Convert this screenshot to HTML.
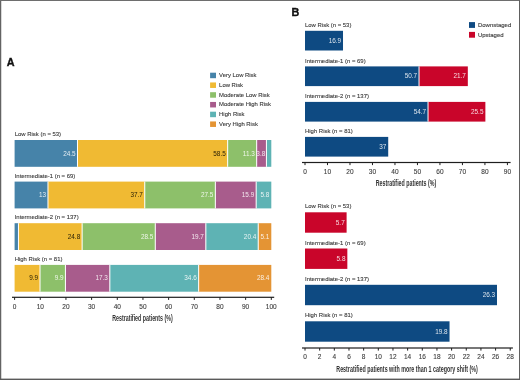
<!DOCTYPE html>
<html><head><meta charset="utf-8"><style>
html,body{margin:0;padding:0;background:#fff;}
body{width:520px;height:380px;overflow:hidden;position:relative;}
svg{position:absolute;left:0;top:0;display:block;will-change:transform;}
text{font-family:"Liberation Sans",sans-serif;}
</style></head><body>
<svg width="520" height="380" viewBox="0 0 520 380">
<rect x="0" y="0" width="520" height="380" fill="#fff"/>
<text transform="translate(14.70,136.20) scale(0.952,1)" font-size="6.25" text-anchor="start" fill="#3b3b3b" font-weight="normal" stroke="#3b3b3b" stroke-width="0.12">Low Risk (n = 53)</text>
<rect x="14.60" y="140.00" width="62.89" height="26.80" fill="#4683a9"/>
<rect x="77.49" y="140.00" width="150.17" height="26.80" fill="#f0ba33"/>
<rect x="227.66" y="140.00" width="29.01" height="26.80" fill="#8dc06a"/>
<rect x="256.67" y="140.00" width="9.75" height="26.80" fill="#a85c8c"/>
<rect x="266.42" y="140.00" width="4.88" height="26.80" fill="#5eb3b4"/>
<rect x="76.99" y="140.00" width="1.00" height="26.80" fill="#ffffff"/>
<text x="75.59" y="155.50" font-size="6.4" text-anchor="end" fill="#ffffff" font-weight="normal" fill-opacity="0.85">24.5</text>
<rect x="227.16" y="140.00" width="1.00" height="26.80" fill="#ffffff"/>
<text x="225.76" y="155.50" font-size="6.4" text-anchor="end" fill="#2b2206" font-weight="normal" >58.5</text>
<rect x="256.17" y="140.00" width="1.00" height="26.80" fill="#ffffff"/>
<text x="254.77" y="155.50" font-size="6.4" text-anchor="end" fill="#ffffff" font-weight="normal" fill-opacity="0.85">11.3</text>
<rect x="265.92" y="140.00" width="1.00" height="26.80" fill="#ffffff"/>
<clipPath id="cl1"><rect x="257.17" y="140.00" width="10.25" height="26.80"/></clipPath>
<text x="265.22" y="155.50" font-size="6.4" text-anchor="end" fill="#ffffff" font-weight="normal" fill-opacity="0.85" clip-path="url(#cl1)">3.8</text>
<text transform="translate(14.70,177.80) scale(0.952,1)" font-size="6.25" text-anchor="start" fill="#3b3b3b" font-weight="normal" stroke="#3b3b3b" stroke-width="0.12">Intermediate-1 (n = 69)</text>
<rect x="14.60" y="181.60" width="33.37" height="26.80" fill="#4683a9"/>
<rect x="47.97" y="181.60" width="96.78" height="26.80" fill="#f0ba33"/>
<rect x="144.75" y="181.60" width="70.59" height="26.80" fill="#8dc06a"/>
<rect x="215.34" y="181.60" width="40.82" height="26.80" fill="#a85c8c"/>
<rect x="256.15" y="181.60" width="15.15" height="26.80" fill="#5eb3b4"/>
<rect x="47.47" y="181.60" width="1.00" height="26.80" fill="#ffffff"/>
<text x="46.07" y="197.10" font-size="6.4" text-anchor="end" fill="#ffffff" font-weight="normal" fill-opacity="0.85">13</text>
<rect x="144.25" y="181.60" width="1.00" height="26.80" fill="#ffffff"/>
<text x="142.85" y="197.10" font-size="6.4" text-anchor="end" fill="#2b2206" font-weight="normal" >37.7</text>
<rect x="214.84" y="181.60" width="1.00" height="26.80" fill="#ffffff"/>
<text x="213.44" y="197.10" font-size="6.4" text-anchor="end" fill="#ffffff" font-weight="normal" fill-opacity="0.85">27.5</text>
<rect x="255.65" y="181.60" width="1.00" height="26.80" fill="#ffffff"/>
<text x="254.25" y="197.10" font-size="6.4" text-anchor="end" fill="#ffffff" font-weight="normal" fill-opacity="0.85">15.9</text>
<text x="269.40" y="197.10" font-size="6.4" text-anchor="end" fill="#ffffff" font-weight="normal" fill-opacity="0.85">5.8</text>
<text transform="translate(14.70,219.40) scale(0.952,1)" font-size="6.25" text-anchor="start" fill="#3b3b3b" font-weight="normal" stroke="#3b3b3b" stroke-width="0.12">Intermediate-2 (n = 137)</text>
<rect x="14.60" y="223.20" width="3.85" height="26.80" fill="#4683a9"/>
<rect x="18.45" y="223.20" width="63.66" height="26.80" fill="#f0ba33"/>
<rect x="82.11" y="223.20" width="73.16" height="26.80" fill="#8dc06a"/>
<rect x="155.27" y="223.20" width="50.57" height="26.80" fill="#a85c8c"/>
<rect x="205.84" y="223.20" width="52.37" height="26.80" fill="#5eb3b4"/>
<rect x="258.21" y="223.20" width="13.09" height="26.80" fill="#e49434"/>
<rect x="17.95" y="223.20" width="1.00" height="26.80" fill="#ffffff"/>
<rect x="81.61" y="223.20" width="1.00" height="26.80" fill="#ffffff"/>
<text x="80.21" y="238.70" font-size="6.4" text-anchor="end" fill="#2b2206" font-weight="normal" >24.8</text>
<rect x="154.77" y="223.20" width="1.00" height="26.80" fill="#ffffff"/>
<text x="153.37" y="238.70" font-size="6.4" text-anchor="end" fill="#ffffff" font-weight="normal" fill-opacity="0.85">28.5</text>
<rect x="205.34" y="223.20" width="1.00" height="26.80" fill="#ffffff"/>
<text x="203.94" y="238.70" font-size="6.4" text-anchor="end" fill="#ffffff" font-weight="normal" fill-opacity="0.85">19.7</text>
<rect x="257.71" y="223.20" width="1.00" height="26.80" fill="#ffffff"/>
<text x="256.31" y="238.70" font-size="6.4" text-anchor="end" fill="#ffffff" font-weight="normal" fill-opacity="0.85">20.4</text>
<text x="269.40" y="238.70" font-size="6.4" text-anchor="end" fill="#ffffff" font-weight="normal" fill-opacity="0.85">5.1</text>
<text transform="translate(14.70,261.10) scale(0.952,1)" font-size="6.25" text-anchor="start" fill="#3b3b3b" font-weight="normal" stroke="#3b3b3b" stroke-width="0.12">High Risk (n = 81)</text>
<rect x="14.60" y="264.90" width="25.41" height="26.80" fill="#f0ba33"/>
<rect x="40.01" y="264.90" width="25.41" height="26.80" fill="#8dc06a"/>
<rect x="65.43" y="264.90" width="44.41" height="26.80" fill="#a85c8c"/>
<rect x="109.84" y="264.90" width="88.82" height="26.80" fill="#5eb3b4"/>
<rect x="198.65" y="264.90" width="72.65" height="26.80" fill="#e49434"/>
<rect x="39.51" y="264.90" width="1.00" height="26.80" fill="#ffffff"/>
<text x="38.11" y="280.40" font-size="6.4" text-anchor="end" fill="#2b2206" font-weight="normal" >9.9</text>
<rect x="64.93" y="264.90" width="1.00" height="26.80" fill="#ffffff"/>
<text x="63.53" y="280.40" font-size="6.4" text-anchor="end" fill="#ffffff" font-weight="normal" fill-opacity="0.85">9.9</text>
<rect x="109.34" y="264.90" width="1.00" height="26.80" fill="#ffffff"/>
<text x="107.94" y="280.40" font-size="6.4" text-anchor="end" fill="#ffffff" font-weight="normal" fill-opacity="0.85">17.3</text>
<rect x="198.15" y="264.90" width="1.00" height="26.80" fill="#ffffff"/>
<text x="196.75" y="280.40" font-size="6.4" text-anchor="end" fill="#ffffff" font-weight="normal" fill-opacity="0.85">34.6</text>
<text x="269.40" y="280.40" font-size="6.4" text-anchor="end" fill="#ffffff" font-weight="normal" fill-opacity="0.85">28.4</text>
<rect x="12.00" y="296.70" width="262.20" height="1.20" fill="#1e1e1e"/>
<rect x="14.10" y="297.30" width="1.00" height="2.60" fill="#1e1e1e"/>
<text x="14.60" y="308.80" font-size="6.5" text-anchor="middle" fill="#3b3b3b" font-weight="normal" stroke="#3b3b3b" stroke-width="0.1">0</text>
<rect x="39.77" y="297.30" width="1.00" height="2.60" fill="#1e1e1e"/>
<text x="40.27" y="308.80" font-size="6.5" text-anchor="middle" fill="#3b3b3b" font-weight="normal" stroke="#3b3b3b" stroke-width="0.1">10</text>
<rect x="65.44" y="297.30" width="1.00" height="2.60" fill="#1e1e1e"/>
<text x="65.94" y="308.80" font-size="6.5" text-anchor="middle" fill="#3b3b3b" font-weight="normal" stroke="#3b3b3b" stroke-width="0.1">20</text>
<rect x="91.11" y="297.30" width="1.00" height="2.60" fill="#1e1e1e"/>
<text x="91.61" y="308.80" font-size="6.5" text-anchor="middle" fill="#3b3b3b" font-weight="normal" stroke="#3b3b3b" stroke-width="0.1">30</text>
<rect x="116.78" y="297.30" width="1.00" height="2.60" fill="#1e1e1e"/>
<text x="117.28" y="308.80" font-size="6.5" text-anchor="middle" fill="#3b3b3b" font-weight="normal" stroke="#3b3b3b" stroke-width="0.1">40</text>
<rect x="142.45" y="297.30" width="1.00" height="2.60" fill="#1e1e1e"/>
<text x="142.95" y="308.80" font-size="6.5" text-anchor="middle" fill="#3b3b3b" font-weight="normal" stroke="#3b3b3b" stroke-width="0.1">50</text>
<rect x="168.12" y="297.30" width="1.00" height="2.60" fill="#1e1e1e"/>
<text x="168.62" y="308.80" font-size="6.5" text-anchor="middle" fill="#3b3b3b" font-weight="normal" stroke="#3b3b3b" stroke-width="0.1">60</text>
<rect x="193.79" y="297.30" width="1.00" height="2.60" fill="#1e1e1e"/>
<text x="194.29" y="308.80" font-size="6.5" text-anchor="middle" fill="#3b3b3b" font-weight="normal" stroke="#3b3b3b" stroke-width="0.1">70</text>
<rect x="219.46" y="297.30" width="1.00" height="2.60" fill="#1e1e1e"/>
<text x="219.96" y="308.80" font-size="6.5" text-anchor="middle" fill="#3b3b3b" font-weight="normal" stroke="#3b3b3b" stroke-width="0.1">80</text>
<rect x="245.13" y="297.30" width="1.00" height="2.60" fill="#1e1e1e"/>
<text x="245.63" y="308.80" font-size="6.5" text-anchor="middle" fill="#3b3b3b" font-weight="normal" stroke="#3b3b3b" stroke-width="0.1">90</text>
<rect x="270.80" y="297.30" width="1.00" height="2.60" fill="#1e1e1e"/>
<text x="271.30" y="308.80" font-size="6.5" text-anchor="middle" fill="#3b3b3b" font-weight="normal" stroke="#3b3b3b" stroke-width="0.1">100</text>
<text x="112.2" y="320.9" font-size="8.2" font-weight="bold" fill="#333" textLength="60.5" lengthAdjust="spacingAndGlyphs">Restratified patients (%)</text>
<text x="6.70" y="65.80" font-size="10.8" text-anchor="start" fill="#111" font-weight="bold" stroke="#111" stroke-width="0.35">A</text>
<rect x="210.10" y="72.70" width="5.90" height="5.50" fill="#4683a9"/>
<text transform="translate(219.10,77.00) scale(0.955,1)" font-size="6.2" text-anchor="start" fill="#3b3b3b" font-weight="normal" stroke="#3b3b3b" stroke-width="0.12">Very Low Risk</text>
<rect x="210.10" y="82.45" width="5.90" height="5.50" fill="#f0ba33"/>
<text transform="translate(219.10,86.75) scale(0.955,1)" font-size="6.2" text-anchor="start" fill="#3b3b3b" font-weight="normal" stroke="#3b3b3b" stroke-width="0.12">Low Risk</text>
<rect x="210.10" y="92.20" width="5.90" height="5.50" fill="#8dc06a"/>
<text transform="translate(219.10,96.50) scale(0.955,1)" font-size="6.2" text-anchor="start" fill="#3b3b3b" font-weight="normal" stroke="#3b3b3b" stroke-width="0.12">Moderate Low Risk</text>
<rect x="210.10" y="101.95" width="5.90" height="5.50" fill="#a85c8c"/>
<text transform="translate(219.10,106.25) scale(0.955,1)" font-size="6.2" text-anchor="start" fill="#3b3b3b" font-weight="normal" stroke="#3b3b3b" stroke-width="0.12">Moderate High Risk</text>
<rect x="210.10" y="111.70" width="5.90" height="5.50" fill="#5eb3b4"/>
<text transform="translate(219.10,116.00) scale(0.955,1)" font-size="6.2" text-anchor="start" fill="#3b3b3b" font-weight="normal" stroke="#3b3b3b" stroke-width="0.12">High Risk</text>
<rect x="210.10" y="121.45" width="5.90" height="5.50" fill="#e49434"/>
<text transform="translate(219.10,125.75) scale(0.955,1)" font-size="6.2" text-anchor="start" fill="#3b3b3b" font-weight="normal" stroke="#3b3b3b" stroke-width="0.12">Very High Risk</text>
<text transform="translate(305.00,26.90) scale(0.952,1)" font-size="6.25" text-anchor="start" fill="#3b3b3b" font-weight="normal" stroke="#3b3b3b" stroke-width="0.12">Low Risk (n = 53)</text>
<rect x="305.00" y="30.80" width="38.01" height="19.70" fill="#0e4a82"/>
<text x="341.11" y="42.75" font-size="6.4" text-anchor="end" fill="#ffffff" font-weight="normal" fill-opacity="0.85">16.9</text>
<text transform="translate(305.00,62.50) scale(0.952,1)" font-size="6.25" text-anchor="start" fill="#3b3b3b" font-weight="normal" stroke="#3b3b3b" stroke-width="0.12">Intermediate-1 (n = 69)</text>
<rect x="305.00" y="66.40" width="114.02" height="19.70" fill="#0e4a82"/>
<rect x="419.02" y="66.40" width="48.80" height="19.70" fill="#c9052a"/>
<rect x="418.52" y="66.40" width="1.00" height="19.70" fill="#ffffff"/>
<text x="417.12" y="78.35" font-size="6.4" text-anchor="end" fill="#ffffff" font-weight="normal" fill-opacity="0.85">50.7</text>
<text x="465.93" y="78.35" font-size="6.4" text-anchor="end" fill="#ffffff" font-weight="normal" fill-opacity="0.85">21.7</text>
<text transform="translate(305.00,98.00) scale(0.952,1)" font-size="6.25" text-anchor="start" fill="#3b3b3b" font-weight="normal" stroke="#3b3b3b" stroke-width="0.12">Intermediate-2 (n = 137)</text>
<rect x="305.00" y="101.90" width="123.02" height="19.70" fill="#0e4a82"/>
<rect x="428.02" y="101.90" width="57.35" height="19.70" fill="#c9052a"/>
<rect x="427.52" y="101.90" width="1.00" height="19.70" fill="#ffffff"/>
<text x="426.12" y="113.85" font-size="6.4" text-anchor="end" fill="#ffffff" font-weight="normal" fill-opacity="0.85">54.7</text>
<text x="483.47" y="113.85" font-size="6.4" text-anchor="end" fill="#ffffff" font-weight="normal" fill-opacity="0.85">25.5</text>
<text transform="translate(305.00,133.00) scale(0.952,1)" font-size="6.25" text-anchor="start" fill="#3b3b3b" font-weight="normal" stroke="#3b3b3b" stroke-width="0.12">High Risk (n = 81)</text>
<rect x="305.00" y="136.90" width="83.21" height="19.70" fill="#0e4a82"/>
<text x="386.31" y="148.85" font-size="6.4" text-anchor="end" fill="#ffffff" font-weight="normal" fill-opacity="0.85">37</text>
<rect x="302.00" y="161.90" width="208.60" height="1.20" fill="#1e1e1e"/>
<rect x="304.50" y="162.50" width="1.00" height="2.60" fill="#1e1e1e"/>
<text x="305.00" y="173.60" font-size="6.5" text-anchor="middle" fill="#3b3b3b" font-weight="normal" stroke="#3b3b3b" stroke-width="0.1">0</text>
<rect x="326.99" y="162.50" width="1.00" height="2.60" fill="#1e1e1e"/>
<text x="327.49" y="173.60" font-size="6.5" text-anchor="middle" fill="#3b3b3b" font-weight="normal" stroke="#3b3b3b" stroke-width="0.1">10</text>
<rect x="349.48" y="162.50" width="1.00" height="2.60" fill="#1e1e1e"/>
<text x="349.98" y="173.60" font-size="6.5" text-anchor="middle" fill="#3b3b3b" font-weight="normal" stroke="#3b3b3b" stroke-width="0.1">20</text>
<rect x="371.97" y="162.50" width="1.00" height="2.60" fill="#1e1e1e"/>
<text x="372.47" y="173.60" font-size="6.5" text-anchor="middle" fill="#3b3b3b" font-weight="normal" stroke="#3b3b3b" stroke-width="0.1">30</text>
<rect x="394.46" y="162.50" width="1.00" height="2.60" fill="#1e1e1e"/>
<text x="394.96" y="173.60" font-size="6.5" text-anchor="middle" fill="#3b3b3b" font-weight="normal" stroke="#3b3b3b" stroke-width="0.1">40</text>
<rect x="416.95" y="162.50" width="1.00" height="2.60" fill="#1e1e1e"/>
<text x="417.45" y="173.60" font-size="6.5" text-anchor="middle" fill="#3b3b3b" font-weight="normal" stroke="#3b3b3b" stroke-width="0.1">50</text>
<rect x="439.44" y="162.50" width="1.00" height="2.60" fill="#1e1e1e"/>
<text x="439.94" y="173.60" font-size="6.5" text-anchor="middle" fill="#3b3b3b" font-weight="normal" stroke="#3b3b3b" stroke-width="0.1">60</text>
<rect x="461.93" y="162.50" width="1.00" height="2.60" fill="#1e1e1e"/>
<text x="462.43" y="173.60" font-size="6.5" text-anchor="middle" fill="#3b3b3b" font-weight="normal" stroke="#3b3b3b" stroke-width="0.1">70</text>
<rect x="484.42" y="162.50" width="1.00" height="2.60" fill="#1e1e1e"/>
<text x="484.92" y="173.60" font-size="6.5" text-anchor="middle" fill="#3b3b3b" font-weight="normal" stroke="#3b3b3b" stroke-width="0.1">80</text>
<rect x="506.91" y="162.50" width="1.00" height="2.60" fill="#1e1e1e"/>
<text x="507.41" y="173.60" font-size="6.5" text-anchor="middle" fill="#3b3b3b" font-weight="normal" stroke="#3b3b3b" stroke-width="0.1">90</text>
<text x="375.7" y="186.3" font-size="8.2" font-weight="bold" fill="#333" textLength="60.5" lengthAdjust="spacingAndGlyphs">Restratified patients (%)</text>
<text x="291.50" y="16.00" font-size="10.8" text-anchor="start" fill="#111" font-weight="bold" stroke="#111" stroke-width="0.35">B</text>
<rect x="469.00" y="22.10" width="6.00" height="5.80" fill="#0e4a82"/>
<text transform="translate(477.90,27.10) scale(0.97,1)" font-size="6.2" text-anchor="start" fill="#3b3b3b" font-weight="normal" stroke="#3b3b3b" stroke-width="0.12">Downstaged</text>
<rect x="469.00" y="31.90" width="6.00" height="5.80" fill="#c9052a"/>
<text transform="translate(477.90,36.90) scale(0.97,1)" font-size="6.2" text-anchor="start" fill="#3b3b3b" font-weight="normal" stroke="#3b3b3b" stroke-width="0.12">Upstaged</text>
<text transform="translate(305.00,208.40) scale(0.952,1)" font-size="6.25" text-anchor="start" fill="#3b3b3b" font-weight="normal" stroke="#3b3b3b" stroke-width="0.12">Low Risk (n = 53)</text>
<rect x="305.00" y="212.30" width="41.61" height="20.40" fill="#c9052a"/>
<text x="344.71" y="224.60" font-size="6.4" text-anchor="end" fill="#ffffff" font-weight="normal" fill-opacity="0.85">5.7</text>
<text transform="translate(305.00,244.60) scale(0.952,1)" font-size="6.25" text-anchor="start" fill="#3b3b3b" font-weight="normal" stroke="#3b3b3b" stroke-width="0.12">Intermediate-1 (n = 69)</text>
<rect x="305.00" y="248.50" width="42.34" height="20.40" fill="#c9052a"/>
<text x="345.44" y="260.80" font-size="6.4" text-anchor="end" fill="#ffffff" font-weight="normal" fill-opacity="0.85">5.8</text>
<text transform="translate(305.00,280.90) scale(0.952,1)" font-size="6.25" text-anchor="start" fill="#3b3b3b" font-weight="normal" stroke="#3b3b3b" stroke-width="0.12">Intermediate-2 (n = 137)</text>
<rect x="305.00" y="284.80" width="191.99" height="20.40" fill="#0e4a82"/>
<text x="495.09" y="297.10" font-size="6.4" text-anchor="end" fill="#ffffff" font-weight="normal" fill-opacity="0.85">26.3</text>
<text transform="translate(305.00,317.40) scale(0.952,1)" font-size="6.25" text-anchor="start" fill="#3b3b3b" font-weight="normal" stroke="#3b3b3b" stroke-width="0.12">High Risk (n = 81)</text>
<rect x="305.00" y="321.30" width="144.54" height="20.40" fill="#0e4a82"/>
<text x="447.64" y="333.60" font-size="6.4" text-anchor="end" fill="#ffffff" font-weight="normal" fill-opacity="0.85">19.8</text>
<rect x="302.00" y="347.40" width="210.90" height="1.20" fill="#1e1e1e"/>
<rect x="304.50" y="348.00" width="1.00" height="2.60" fill="#1e1e1e"/>
<text x="305.00" y="359.10" font-size="6.5" text-anchor="middle" fill="#3b3b3b" font-weight="normal" stroke="#3b3b3b" stroke-width="0.1">0</text>
<rect x="319.16" y="348.00" width="1.00" height="2.60" fill="#1e1e1e"/>
<text x="319.66" y="359.10" font-size="6.5" text-anchor="middle" fill="#3b3b3b" font-weight="normal" stroke="#3b3b3b" stroke-width="0.1">2</text>
<rect x="333.82" y="348.00" width="1.00" height="2.60" fill="#1e1e1e"/>
<text x="334.32" y="359.10" font-size="6.5" text-anchor="middle" fill="#3b3b3b" font-weight="normal" stroke="#3b3b3b" stroke-width="0.1">4</text>
<rect x="348.48" y="348.00" width="1.00" height="2.60" fill="#1e1e1e"/>
<text x="348.98" y="359.10" font-size="6.5" text-anchor="middle" fill="#3b3b3b" font-weight="normal" stroke="#3b3b3b" stroke-width="0.1">6</text>
<rect x="363.14" y="348.00" width="1.00" height="2.60" fill="#1e1e1e"/>
<text x="363.64" y="359.10" font-size="6.5" text-anchor="middle" fill="#3b3b3b" font-weight="normal" stroke="#3b3b3b" stroke-width="0.1">8</text>
<rect x="377.80" y="348.00" width="1.00" height="2.60" fill="#1e1e1e"/>
<text x="378.30" y="359.10" font-size="6.5" text-anchor="middle" fill="#3b3b3b" font-weight="normal" stroke="#3b3b3b" stroke-width="0.1">10</text>
<rect x="392.46" y="348.00" width="1.00" height="2.60" fill="#1e1e1e"/>
<text x="392.96" y="359.10" font-size="6.5" text-anchor="middle" fill="#3b3b3b" font-weight="normal" stroke="#3b3b3b" stroke-width="0.1">12</text>
<rect x="407.12" y="348.00" width="1.00" height="2.60" fill="#1e1e1e"/>
<text x="407.62" y="359.10" font-size="6.5" text-anchor="middle" fill="#3b3b3b" font-weight="normal" stroke="#3b3b3b" stroke-width="0.1">14</text>
<rect x="421.78" y="348.00" width="1.00" height="2.60" fill="#1e1e1e"/>
<text x="422.28" y="359.10" font-size="6.5" text-anchor="middle" fill="#3b3b3b" font-weight="normal" stroke="#3b3b3b" stroke-width="0.1">16</text>
<rect x="436.44" y="348.00" width="1.00" height="2.60" fill="#1e1e1e"/>
<text x="436.94" y="359.10" font-size="6.5" text-anchor="middle" fill="#3b3b3b" font-weight="normal" stroke="#3b3b3b" stroke-width="0.1">18</text>
<rect x="451.10" y="348.00" width="1.00" height="2.60" fill="#1e1e1e"/>
<text x="451.60" y="359.10" font-size="6.5" text-anchor="middle" fill="#3b3b3b" font-weight="normal" stroke="#3b3b3b" stroke-width="0.1">20</text>
<rect x="465.76" y="348.00" width="1.00" height="2.60" fill="#1e1e1e"/>
<text x="466.26" y="359.10" font-size="6.5" text-anchor="middle" fill="#3b3b3b" font-weight="normal" stroke="#3b3b3b" stroke-width="0.1">22</text>
<rect x="480.42" y="348.00" width="1.00" height="2.60" fill="#1e1e1e"/>
<text x="480.92" y="359.10" font-size="6.5" text-anchor="middle" fill="#3b3b3b" font-weight="normal" stroke="#3b3b3b" stroke-width="0.1">24</text>
<rect x="495.08" y="348.00" width="1.00" height="2.60" fill="#1e1e1e"/>
<text x="495.58" y="359.10" font-size="6.5" text-anchor="middle" fill="#3b3b3b" font-weight="normal" stroke="#3b3b3b" stroke-width="0.1">26</text>
<rect x="509.74" y="348.00" width="1.00" height="2.60" fill="#1e1e1e"/>
<text x="510.24" y="359.10" font-size="6.5" text-anchor="middle" fill="#3b3b3b" font-weight="normal" stroke="#3b3b3b" stroke-width="0.1">28</text>
<text x="336.3" y="371.6" font-size="8.2" font-weight="bold" fill="#333" textLength="141.5" lengthAdjust="spacingAndGlyphs">Restratified patients with more than 1 category shift (%)</text>
<rect x="0" y="0" width="1.25" height="380" fill="#636363"/>
<rect x="0" y="0" width="520" height="1.0" fill="#6e6e6e"/>
<rect x="519" y="0" width="1" height="380" fill="#606060"/>
<rect x="0" y="378.6" width="520" height="1.4" fill="#5a5a5a"/>
</svg>
</body></html>
